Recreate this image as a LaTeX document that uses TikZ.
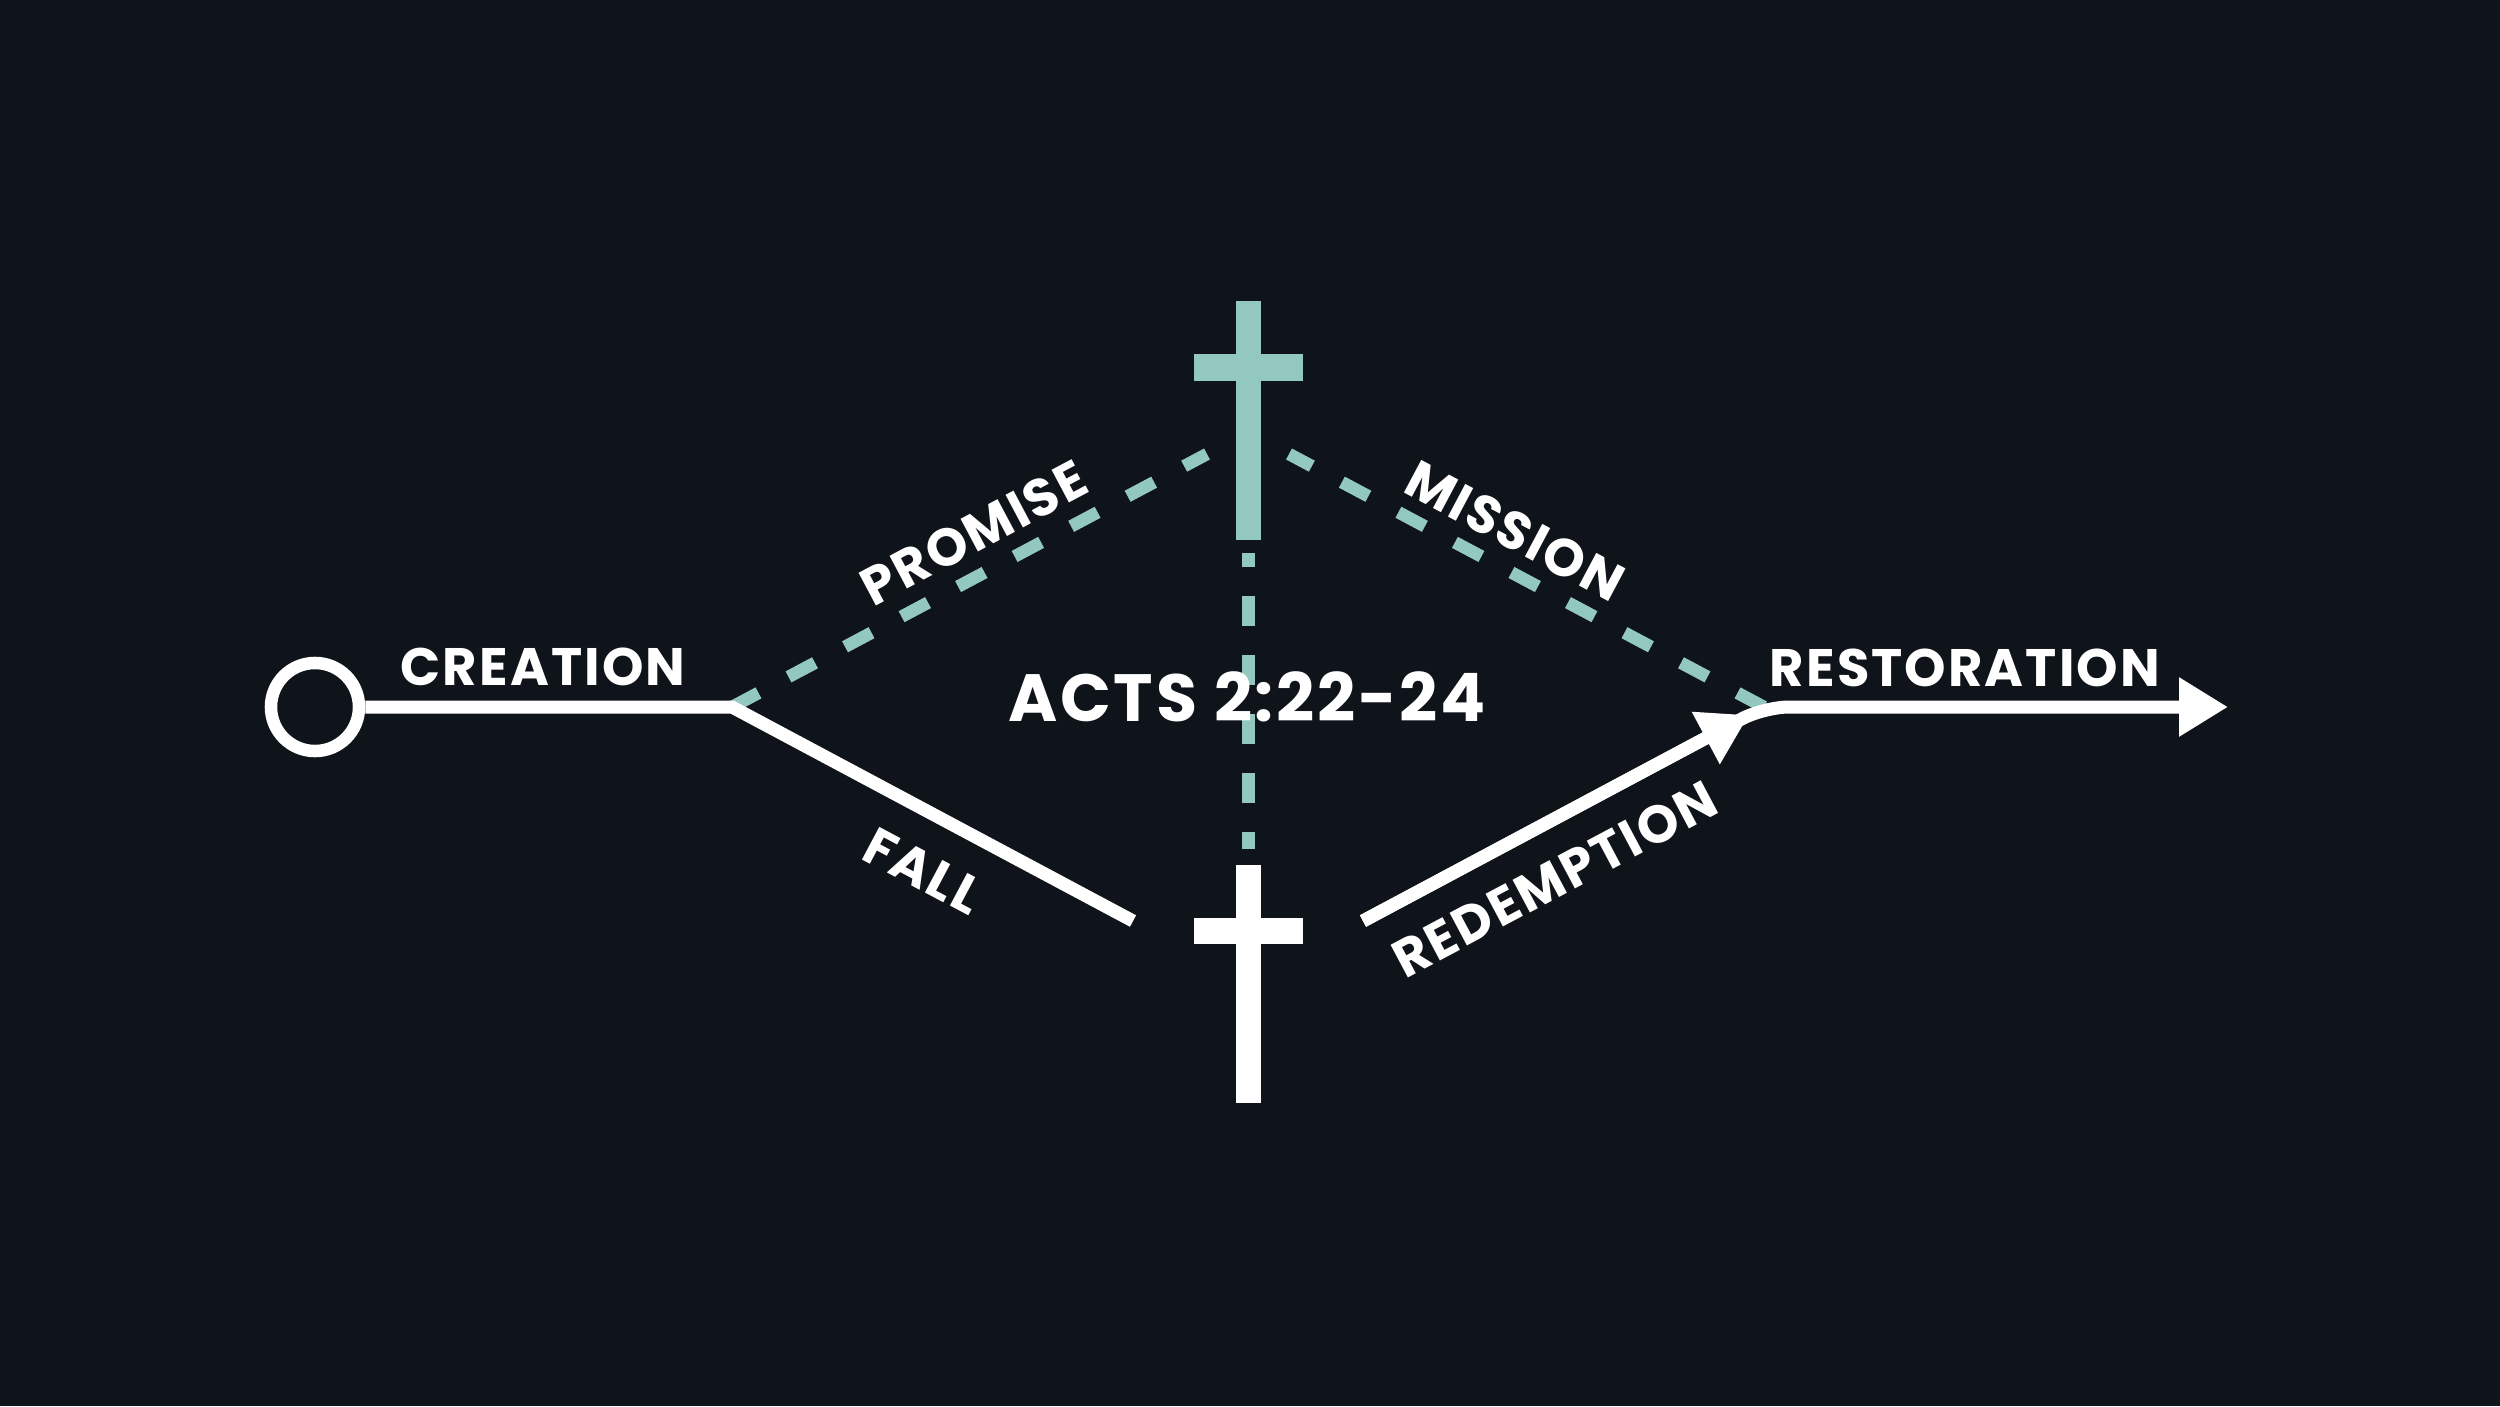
\documentclass[tikz,border=0pt]{standalone}
\usepackage{fontspec}
\setmainfont{Poppins}
\usetikzlibrary{arrows.meta}
\definecolor{bgc}{RGB}{15,19,26}
\definecolor{tealc}{RGB}{146,200,191}
\newcommand\lblfont{\bfseries\fontsize{15pt}{15pt}\selectfont\addfontfeature{LetterSpace=4}}
\newcommand\actsfont{\bfseries\fontsize{19pt}{19pt}\selectfont\addfontfeature{LetterSpace=4}}
\begin{document}
\begin{tikzpicture}[x=0.01cm,y=-0.01cm,
  mainline/.style={white, line width=0.13cm},
  dashline/.style={tealc, line width=0.125cm, dash pattern=on 0.30cm off 0.34cm},
  vdashline/.style={tealc, line width=0.13cm, dash pattern=on 0.30cm off 0.29cm, dash phase=0.16cm},
  lbl/.style={text=white, font=\lblfont, inner sep=0pt},
  arrowtip/.style={-{Triangle[length=0.49cm, width=0.56cm]}},
]
\fill[bgc] (0,0) rectangle (2500,1406);
\useasboundingbox (0,0) rectangle (2500,1406);

% key points
\coordinate (junc) at (732,707);
\coordinate (fallend) at (1133,921);
\coordinate (redstart) at (1363,921);
\coordinate (redtip) at (1749,715);
\coordinate (corner) at (1764,707);
\coordinate (restend) at (2228,707);
\coordinate (promend) at (1207,454);
\coordinate (missend) at (1289,454);
\coordinate (vtop) at (1248,553);
\coordinate (vbot) at (1248,849);

% teal dashed connectors
\draw[dashline] (junc) -- (promend);
\draw[dashline] (corner) -- (missend);
\draw[vdashline] (vtop) -- (vbot);

% crosses
\fill[tealc] (1236,301) rectangle (1261,540);
\fill[tealc] (1194,354) rectangle (1303,381);
\fill[white] (1236,865) rectangle (1261,1103);
\fill[white] (1194,918) rectangle (1303,944);

% start circle and white line
\node[circle, draw=white, line width=0.125cm, minimum size=0.88cm, inner sep=0pt] (start) at (315,707) {};
\draw[mainline, miter limit=10] (start) -- (junc) -- (fallend);
\draw[mainline, arrowtip] (redstart) -- (redtip);
\draw[mainline, rounded corners=0.25cm, arrowtip] (redstart) -- (corner) -- (restend);

% labels
\node[lbl] (creation) at (543,667) {CREATION};
\node[lbl] (restoration) at (1965,668) {RESTORATION};
\node[lbl, rotate=28] (promise) at (974,533) {PROMISE};
\node[lbl, rotate=-28] (mission) at (1515,531) {MISSION};
\node[lbl, rotate=-28] (fall) at (923,871) {FALL};
\node[lbl, rotate=28] (redemption) at (1555,879) {REDEMPTION};
\node[lbl, font=\actsfont] (acts) at (1247,697) {ACTS 2:22-24};
\end{tikzpicture}
\end{document}
